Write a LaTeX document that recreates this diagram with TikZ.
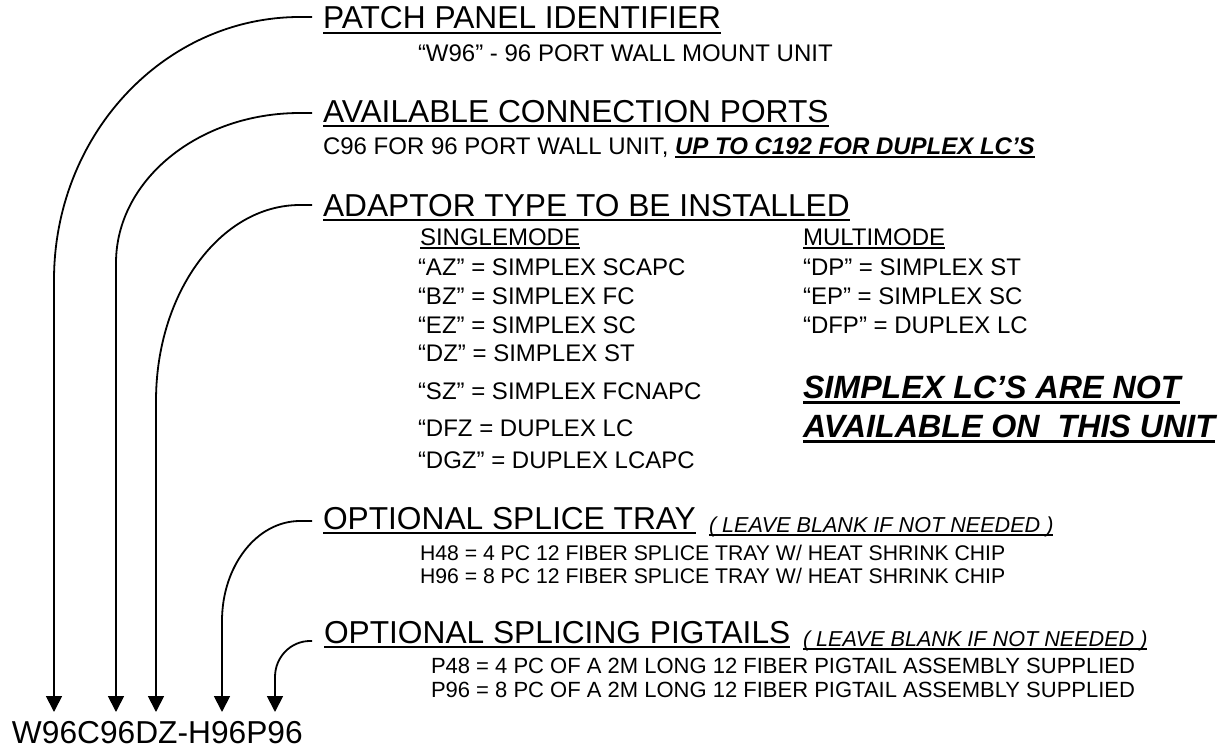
\documentclass[tikz,border=0pt]{standalone}
\usepackage{fontspec}
\setmainfont{Liberation Sans}
\usetikzlibrary{arrows.meta}
\newcommand\myul[3]{\setbox0=\hbox{#3}\rlap{\rule[-#1]{\wd0}{#2}}\box0}
\newcommand\hul[1]{\myul{5.2pt}{2.5pt}{#1}}
\newcommand\sul[1]{\myul{4pt}{2pt}{#1}}
\newcommand\bul[1]{\myul{6pt}{3pt}{#1}}
\tikzset{
 txt/.style={anchor=base west, inner sep=0pt, outer sep=0pt},
 head/.style={txt, font=\fontsize{31.7pt}{36pt}\selectfont},
 sub/.style={txt, font=\fontsize{24pt}{28pt}\selectfont},
 small/.style={txt, font=\fontsize{21.2pt}{24pt}\selectfont},
 pig/.style={txt, font=\fontsize{22pt}{25pt}\selectfont},
 note/.style={txt, font=\fontsize{21.6pt}{26pt}\selectfont\itshape},
 warn/.style={txt, font=\fontsize{32.2pt}{36pt}\selectfont\bfseries\itshape},
 lead/.style={line width=1.8pt, -{Triangle[width=16pt,length=16pt]}},
}
\begin{document}
\begin{tikzpicture}[x=1pt,y=-1pt]
\fill[white] (0,0) rectangle (1228,749);
\useasboundingbox (0,0) rectangle (1228,749);

% headings
\node[head] (h1) at (323,29) {\hul{PATCH PANEL IDENTIFIER}};
\node[sub] (s1) at (418,62) {“W96” - 96 PORT WALL MOUNT UNIT};

\node[head] (h2) at (323,122) {\hul{AVAILABLE CONNECTION PORTS}};
\node[sub] (s2) at (323,154) {C96 FOR 96 PORT WALL UNIT, \myul{3.5pt}{2pt}{\bfseries\itshape UP TO C192 FOR DUPLEX LC’S}};

\node[head] (h3) at (323,216) {\hul{ADAPTOR TYPE TO BE INSTALLED}};
\node[sub] (sm) at (420,245) {\sul{SINGLEMODE}};
\node[sub] (mm) at (803,245) {\sul{MULTIMODE}};
\node[sub] (a1) at (418,275) {“AZ” = SIMPLEX SCAPC};
\node[sub] (a2) at (418,304) {“BZ” = SIMPLEX FC};
\node[sub] (a3) at (418,333) {“EZ” = SIMPLEX SC};
\node[sub] (a4) at (418,361) {“DZ” = SIMPLEX ST};
\node[sub] (a5) at (418,399) {“SZ” = SIMPLEX FCNAPC};
\node[sub] (a6) at (418,436) {“DFZ = DUPLEX LC};
\node[sub] (a7) at (418,468) {“DGZ” = DUPLEX LCAPC};
\node[sub] (b1) at (803,275) {“DP” = SIMPLEX ST};
\node[sub] (b2) at (803,304) {“EP” = SIMPLEX SC};
\node[sub] (b3) at (803,333) {“DFP” = DUPLEX LC};
\node[warn] (w1) at (803,398) {\bul{SIMPLEX LC’S ARE NOT}};
\node[warn] (w2) at (803,437) {\bul{AVAILABLE ON~~THIS UNIT}};

\node[head] (h4) at (323,529) {\hul{OPTIONAL SPLICE TRAY}};
\node[note] (n4) at (709,532) {\sul{( LEAVE BLANK IF NOT NEEDED )}};
\node[small] (t41) at (420,560) {H48 = 4 PC 12 FIBER SPLICE TRAY W/ HEAT SHRINK CHIP};
\node[small] (t42) at (420,583) {H96 = 8 PC 12 FIBER SPLICE TRAY W/ HEAT SHRINK CHIP};

\node[head] (h5) at (324,643) {\hul{OPTIONAL SPLICING PIGTAILS}};
\node[note] (n5) at (803,646) {\sul{( LEAVE BLANK IF NOT NEEDED )}};
\node[pig] (t51) at (431,673) {P48 = 4 PC OF A 2M LONG 12 FIBER PIGTAIL ASSEMBLY SUPPLIED};
\node[pig] (t52) at (431,697) {P96 = 8 PC OF A 2M LONG 12 FIBER PIGTAIL ASSEMBLY SUPPLIED};

% part code
\node[head] (code) at (12,743) {W96C96DZ-H96P96};

% connector ends
\coordinate (c1) at (312,17);
\coordinate (c2) at (312,113);
\coordinate (c3) at (312,205);
\coordinate (c4) at (312,521);
\coordinate (c5) at (312,641);
\coordinate (e1) at (54,712);
\coordinate (e2) at (116,712);
\coordinate (e3) at (156,712);
\coordinate (e4) at (222,712);
\coordinate (e5) at (275,712);

\draw[lead] (c1) -- ++(-12,0) arc[start angle=90, end angle=180, x radius=246pt, y radius=263pt] -- (e1);
\draw[lead] (c2) -- ++(-12,0) arc[start angle=90, end angle=180, x radius=184pt, y radius=150pt] -- (e2);
\draw[lead] (c3) -- ++(-12,0) arc[start angle=90, end angle=180, x radius=144pt, y radius=196pt] -- (e3);
\draw[lead] (c4) -- ++(-12,0) arc[start angle=90, end angle=180, x radius=78pt, y radius=100pt] -- (e4);
\draw[lead] (c5) -- ++(-2,0) arc[start angle=90, end angle=180, x radius=35pt, y radius=36pt] -- (e5);
\end{tikzpicture}
\end{document}
